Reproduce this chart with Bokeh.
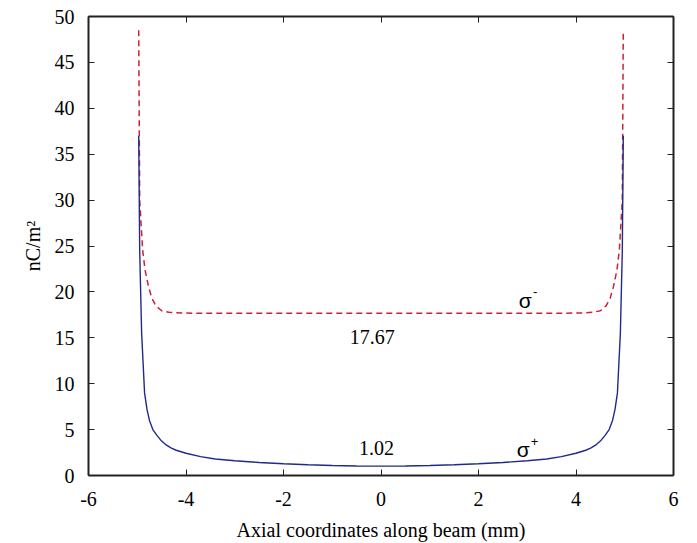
from bokeh.plotting import figure
from bokeh.models import LinearAxis, SingleIntervalTicker, Range1d, CustomLabelingPolicy
from bokeh.core.properties import value
from bokeh.embed import file_html
from bokeh.resources import INLINE

# ---- data ----
x_minus = [-4.97, -4.95, -4.89, -4.84, -4.77, -4.70, -4.62, -4.50, -4.35, -4.20, -4.00,
           -3.00, -2.00, -1.00, 0.00, 1.00, 2.00, 3.00,
           4.00, 4.20, 4.35, 4.50, 4.62, 4.70, 4.77, 4.84, 4.89, 4.95, 4.97]
sigma_minus = [48.5, 30.0, 24.6, 22.4, 20.6, 19.3, 18.5, 17.95, 17.78, 17.72, 17.69,
               17.67, 17.67, 17.67, 17.67, 17.67, 17.67, 17.67,
               17.69, 17.72, 17.78, 17.95, 18.5, 19.3, 20.6, 22.4, 24.6, 30.0, 48.5]

x_plus = [-4.97, -4.95, -4.91, -4.85, -4.80, -4.75, -4.68, -4.60, -4.50, -4.40, -4.30,
          -4.20, -4.00, -3.70, -3.40, -3.00, -2.50, -2.00, -1.50, -1.00, -0.50, 0.00,
          0.50, 1.00, 1.50, 2.00, 2.50, 3.00, 3.40, 3.70, 4.00, 4.20, 4.30, 4.40,
          4.50, 4.60, 4.68, 4.75, 4.80, 4.85, 4.91, 4.95, 4.97]
sigma_plus = [37.0, 24.5, 15.5, 9.0, 7.2, 6.0, 5.0, 4.4, 3.75, 3.3, 2.98,
              2.75, 2.42, 2.05, 1.8, 1.6, 1.42, 1.28, 1.17, 1.09, 1.04, 1.02,
              1.04, 1.09, 1.17, 1.28, 1.42, 1.6, 1.8, 2.05, 2.42, 2.75, 2.98, 3.3,
              3.75, 4.4, 5.0, 6.0, 7.2, 9.0, 15.5, 24.5, 37.0]

x_tick_labels = {-6: "-6", -4: "-4", -2: "-2", 0: "0", 2: "2", 4: "4", 6: "6"}
value_labels = ["17.67", "1.02"]
x_ticks_interval = 2
y_ticks_interval = 5

SERIF = "Liberation Serif"
SANS = "Liberation Sans"

p = figure(width=697, height=543, x_range=Range1d(-6, 6), y_range=Range1d(0, 50),
           output_backend="svg", toolbar_location=None,
           min_border_left=88, min_border_right=24, min_border_top=16, min_border_bottom=67)
p.outline_line_color = None
p.xgrid.visible = False
p.ygrid.visible = False
p.background_fill_color = "white"
p.border_fill_color = "white"

p.line(x_minus, sigma_minus, line_color="#cc2233", line_width=1.5, line_dash="6 4")
p.line(x_plus, sigma_plus, line_color="#1f2a8a", line_width=1.4)

no_labels = CustomLabelingPolicy(code="return new Set()")

def style(ax, labels=True):
    ax.axis_line_width = 2
    ax.axis_line_color = "#222222"
    ax.major_tick_in = 6
    ax.major_tick_out = 0
    ax.major_tick_line_color = "#222222"
    ax.major_tick_line_width = 1
    ax.minor_tick_line_color = None
    if labels:
        ax.major_label_text_font = SERIF
        ax.major_label_text_font_size = "20px"
        ax.major_label_text_color = "black"
        ax.axis_label_text_font = SERIF
        ax.axis_label_text_font_size = "20px"
        ax.axis_label_text_font_style = "normal"
        ax.axis_label_text_color = "black"
    else:
        ax.major_label_policy = no_labels
        ax.major_label_standoff = 0

xa = p.xaxis[0]
ya = p.yaxis[0]
xa.ticker = SingleIntervalTicker(interval=x_ticks_interval)
ya.ticker = SingleIntervalTicker(interval=y_ticks_interval)
style(xa)
style(ya)
xa.major_label_overrides = x_tick_labels
xa.axis_label = "Axial coordinates along beam (mm)"
ya.axis_label = "nC/m²"
xa.major_label_standoff = 12
xa.axis_label_standoff = 10
ya.major_label_standoff = 10
ya.axis_label_standoff = 8

top = LinearAxis(ticker=SingleIntervalTicker(interval=x_ticks_interval))
right = LinearAxis(ticker=SingleIntervalTicker(interval=y_ticks_interval))
style(top, labels=False)
style(right, labels=False)
p.add_layout(top, "above")
p.add_layout(right, "right")

# value annotations
p.text(x=[-0.18, -0.09], y=[15.1, 3.05], text=value_labels,
       text_font=value(SERIF), text_font_size="20px", text_color="black",
       text_align="center", text_baseline="middle")

# sigma labels
p.text(x=[2.96, 2.92], y=[19.1, 2.85], text=["σ", "σ"],
       text_font=value(SANS), text_font_size="21px", text_color="black",
       text_align="center", text_baseline="middle")
p.text(x=[3.16, 3.15], y=[20.0, 3.7], text=["-", "+"],
       text_font=value(SANS), text_font_size="13px", text_color="black",
       text_align="center", text_baseline="middle")

open("out.html", "w").write(file_html(p, INLINE))
